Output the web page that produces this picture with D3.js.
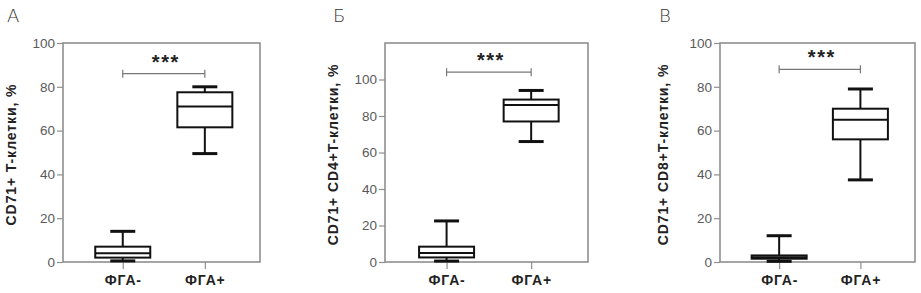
<!DOCTYPE html>
<html>
<head>
<meta charset="utf-8">
<script src="https://cdn.jsdelivr.net/npm/d3@7"></script>
<style>
  body { margin: 0; background: #fff; }
  svg { display: block; }
</style>
</head>
<body>
<div id="chart"></div>
<script>
const categories = ['ФГА-', 'ФГА+'];
const panelLetters = ['А', 'Б', 'В'];
const yLabels = ['CD71+ T-клетки, %', 'CD71+ CD4+T-клетки, %', 'CD71+ CD8+T-клетки, %'];
const yMax = [100, 120, 100];
const yTicks = [[0, 20, 40, 60, 80, 100], [0, 20, 40, 60, 80, 100], [0, 20, 40, 60, 80, 100]];

// [min, q1, median, q3, max] for ФГА- and ФГА+
const statsA = [[0.5, 2, 4, 7, 14], [49.5, 61.5, 71, 77.5, 80]];
const statsB = [[0.5, 2.5, 5, 8.4, 22.5], [66, 77, 86, 89, 94]];
const statsC = [[0.3, 1.5, 2.2, 3, 12], [37.5, 56, 65, 70, 79]];
const bracketLevel = [86, 104, 88];
const signif = ['***', '***', '***'];

const panels = [
  { stats: statsA, left: 63, right: 260, labelX: 11, letterX: 7 },
  { stats: statsB, left: 385, right: 588, labelX: 333, letterX: 333 },
  { stats: statsC, left: 720, right: 915, labelX: 663, letterX: 659 },
];

const width = 921, height = 293;
const plotTop = 43, plotBottom = 262;
const frameColor = '#8f8f8f';
const font = 'Liberation Sans, Arial, sans-serif';

const svg = d3.select('#chart').append('svg').attr('width', width).attr('height', height);

const drawPanel = (p, i) => {
  const g = svg.append('g');
  const x = d3.scalePoint().domain(categories).range([p.left, p.right]).padding(0.7).align(0.52);
  const y = d3.scaleLinear().domain([0, yMax[i]]).range([plotBottom, plotTop]);

  // frame
  g.append('rect')
    .attr('x', p.left).attr('y', plotTop)
    .attr('width', p.right - p.left).attr('height', plotBottom - plotTop)
    .attr('fill', 'none').attr('stroke', frameColor).attr('stroke-width', 1.6);

  const yAxis = g.append('g')
    .attr('transform', `translate(${p.left},0)`)
    .call(d3.axisLeft(y).tickValues(yTicks[i]).tickSize(6).tickPadding(2));
  yAxis.select('.domain').remove();
  yAxis.selectAll('line').attr('stroke', frameColor).attr('stroke-width', 1.2);
  yAxis.selectAll('text')
    .attr('fill', '#5a5a5a').style('font-family', font).style('font-size', '13.5px');

  const xAxis = g.append('g')
    .attr('transform', `translate(0,${plotBottom})`)
    .call(d3.axisBottom(x).tickSize(7).tickPadding(6));
  xAxis.select('.domain').remove();
  xAxis.selectAll('line').attr('stroke', frameColor).attr('stroke-width', 1.2);
  xAxis.selectAll('text')
    .attr('fill', '#222').style('font-family', font)
    .style('font-size', '14px').style('font-weight', 'bold').style('letter-spacing', '0.8px');

  // boxes
  const boxW = 55, capW = 25;
  categories.forEach((c, j) => {
    const [mn, q1, md, q3, mx] = p.stats[j];
    const cx = x(c);
    const bx = g.append('g').attr('stroke', '#111').attr('stroke-width', 2).attr('fill', 'none');
    bx.append('line').attr('x1', cx).attr('x2', cx).attr('y1', y(q3)).attr('y2', y(mx));
    bx.append('line').attr('x1', cx).attr('x2', cx).attr('y1', y(q1)).attr('y2', y(mn));
    bx.append('line').attr('x1', cx - capW / 2).attr('x2', cx + capW / 2).attr('y1', y(mx)).attr('y2', y(mx)).attr('stroke-width', 3);
    bx.append('line').attr('x1', cx - capW / 2).attr('x2', cx + capW / 2).attr('y1', y(mn)).attr('y2', y(mn)).attr('stroke-width', 3);
    bx.append('rect').attr('x', cx - boxW / 2).attr('y', y(q3))
      .attr('width', boxW).attr('height', y(q1) - y(q3)).attr('fill', '#fff');
    bx.append('line').attr('x1', cx - boxW / 2).attr('x2', cx + boxW / 2).attr('y1', y(md)).attr('y2', y(md));
  });

  // significance bracket
  const by = y(bracketLevel[i]);
  const br = g.append('g').attr('stroke', '#777').attr('stroke-width', 1.2);
  br.append('line').attr('x1', x(categories[0])).attr('x2', x(categories[1])).attr('y1', by).attr('y2', by);
  br.append('line').attr('x1', x(categories[0])).attr('x2', x(categories[0])).attr('y1', by - 4).attr('y2', by + 4);
  br.append('line').attr('x1', x(categories[1])).attr('x2', x(categories[1])).attr('y1', by - 4).attr('y2', by + 4);
  g.append('text')
    .attr('x', (x(categories[0]) + x(categories[1])) / 2 + 2)
    .attr('y', by - 5)
    .attr('text-anchor', 'middle')
    .attr('fill', '#222')
    .style('font-family', font)
    .style('font-size', '20px').style('font-weight', 'bold').style('letter-spacing', '1.5px')
    .text(signif[i]);

  // y label
  g.append('text')
    .attr('transform', `translate(${p.labelX},${(plotTop + plotBottom) / 2 + 2}) rotate(-90)`)
    .attr('text-anchor', 'middle').attr('dominant-baseline', 'central')
    .attr('fill', '#222')
    .style('font-family', font)
    .style('font-size', '14px').style('font-weight', 'bold').style('letter-spacing', '0.9px')
    .text(yLabels[i]);

  // panel letter
  g.append('text')
    .attr('x', p.letterX).attr('y', 22)
    .attr('fill', '#333')
    .style('font-family', 'DejaVu Sans, sans-serif')
    .style('font-size', '18px').style('font-weight', 200)
    .text(panelLetters[i]);
};

panels.forEach(drawPanel);
</script>
</body>
</html>
